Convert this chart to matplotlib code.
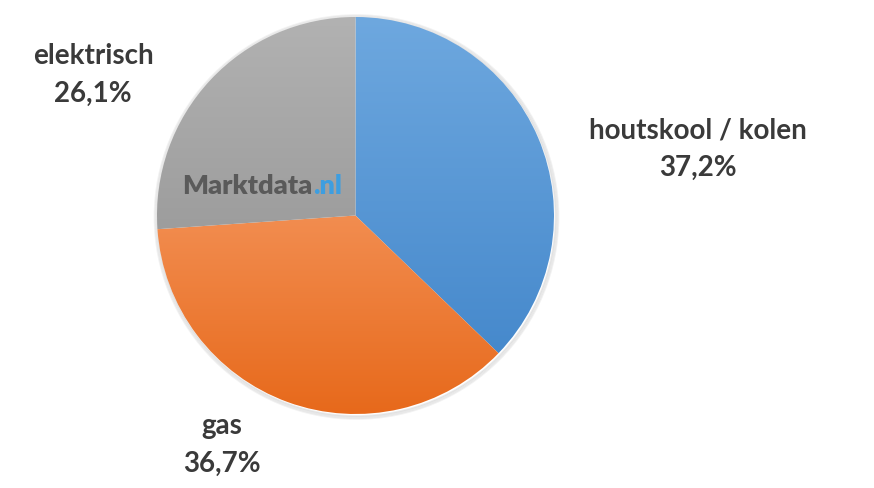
import numpy as np
import matplotlib.pyplot as plt
from matplotlib.colors import LinearSegmentedColormap
from matplotlib.patches import Circle

# data
labels = ["houtskool / kolen", "gas", "elektrisch"]
shares = [37.2, 36.7, 26.1]

# styling (gradient top -> bottom per slice)
grad_colors = [("#6ea8df", "#4689cc"),
               ("#f28d50", "#e7691b"),
               ("#b2b2b2", "#9d9d9d")]
label_pos = [(698, 149), (222, 445), (93, 75)]  # pixel coords (from top)

W, H = 874, 489
cx, cy, R = 355.5, H - 216.5, 198.5

fig = plt.figure(figsize=(W / 100, H / 100), dpi=100)
ax = fig.add_axes([0, 0, 1, 1])

# soft shadow behind the pie
for i, a in enumerate([0.05, 0.05, 0.06, 0.08]):
    ax.add_patch(Circle((cx + 1, cy - 1.5), R + 3.5 - i, facecolor="none",
                        edgecolor="black", alpha=a, linewidth=1.2, zorder=0))

wedges, _ = ax.pie(shares, startangle=90, counterclock=False,
                   center=(cx, cy), radius=R, frame=True,
                   wedgeprops=dict(linewidth=0))

for w, (c_top, c_bot) in zip(wedges, grad_colors):
    w.set_facecolor("none")
    ext = w.get_path().get_extents()
    cmap = LinearSegmentedColormap.from_list("g", [c_bot, c_top])
    grad = np.linspace(0, 1, 256).reshape(-1, 1)
    im = ax.imshow(grad, cmap=cmap, origin="lower", aspect="auto",
                   extent=(ext.x0, ext.x1, ext.y0, ext.y1), zorder=1,
                   interpolation="bilinear")
    im.set_clip_path(w)

ax.set_xlim(0, W)
ax.set_ylim(0, H)
ax.set_aspect("auto")
ax.axis("off")

for lab, val, (x, y) in zip(labels, shares, label_pos):
    txt = lab + "\n" + f"{val:.1f}%".replace(".", ",")
    ax.text(x, H - y, txt, ha="center", va="center", fontsize=20,
            fontweight="bold", color="#3a3a3a", family="Lato",
            linespacing=1.55)

# watermark
t = ax.text(182, H - 186, "Marktdata", ha="left", va="center", fontsize=19.5,
            fontweight="heavy", color="#5a5a5a", family="Lato", zorder=3)
fig.canvas.draw()
bb = t.get_window_extent()
ax.text(bb.x1 + 1, H - 186, ".nl", ha="left", va="center", fontsize=19.5,
        fontweight="heavy", color="#3d9ee0", family="Lato", zorder=3,
        transform=None)

fig.savefig("out.png", dpi=100, facecolor="white")
